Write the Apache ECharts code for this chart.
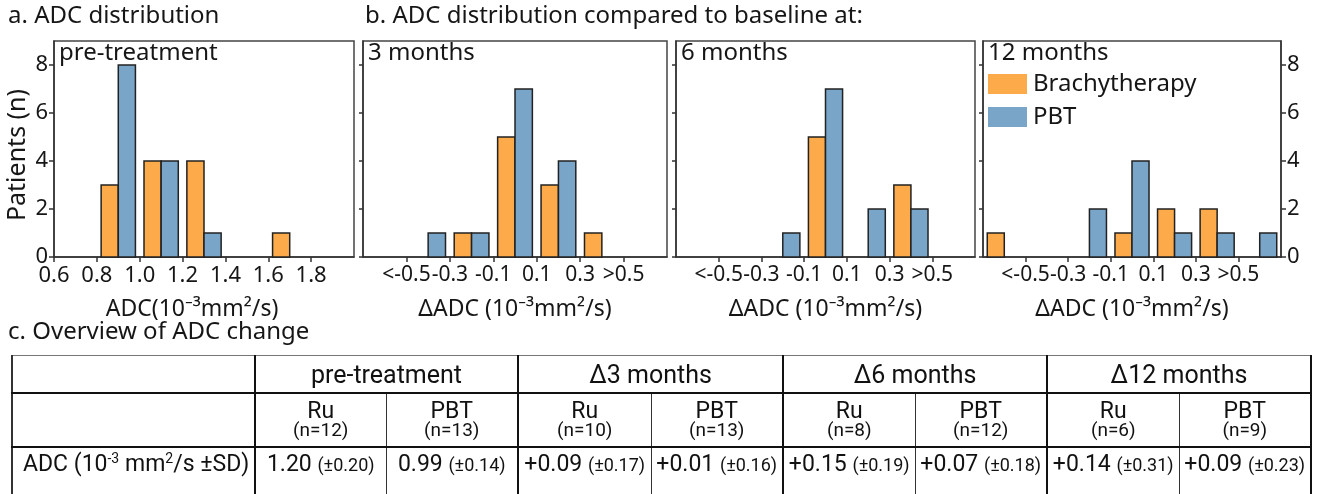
<!DOCTYPE html>
<html>
<head>
<meta charset="utf-8">
<script src="https://cdn.jsdelivr.net/npm/echarts@6/dist/echarts.min.js"></script>
<style>
  html, body { margin: 0; padding: 0; background: #fff; overflow: hidden; }
  #chart { position: absolute; left: 0; top: 0; width: 1322px; height: 494px; }
  #tbl {
    position: absolute; left: 11px; top: 355px;
    border-collapse: collapse; table-layout: fixed;
    font-family: "Roboto", sans-serif;
    color: #111; text-align: center;
    border-top: 1px solid #777; border-left: 2px solid #333; border-right: 2.5px solid #111;
  }
  #tbl td { padding: 0; vertical-align: middle; white-space: nowrap; }
  #tbl tr.r1 td { height: 36px; font-size: 25px; border-bottom: 2.5px solid #111; }
  #tbl tr.r2 td { height: 52px; border-bottom: 2.5px solid #111; line-height: 1; }
  #tbl tr.r3 td { height: 60px; font-size: 23px; vertical-align: top; padding-top: 2px; }
  #tbl td.thick { border-right: 2.5px solid #111; }
  #tbl td.thin { border-right: 1px solid #333; }
  #tbl td.lbl { text-align: left; padding-left: 10px; font-size: 22px; }
  #tbl .grp { font-size: 23px; display: block; line-height: 18px; margin-top: 1px; }
  #tbl .n { font-size: 19px; display: block; line-height: 19px; }
  #tbl .sd { font-size: 18px; }
  #tbl sup { font-size: 14px; vertical-align: 8px; line-height: 0; }
</style>
</head>
<body>
<div id="chart"></div>
<table id="tbl"></table>
<script>
// ---- panel a: absolute ADC, bins of 0.2 ----
const aBinCenters = [0.7, 0.9, 1.1, 1.3, 1.5, 1.7, 1.9];
const aTickValues = [0.6, 0.8, 1.0, 1.2, 1.4, 1.6, 1.8];
const brachyPre = [0, 3, 4, 4, 0, 1, 0];
const pbtPre = [0, 8, 4, 1, 0, 0, 0];

// ---- panel b: change vs baseline ----
const dBinCenters = [-0.6, -0.4, -0.2, 0, 0.2, 0.4, 0.6];
const dTickValues = [-0.5, -0.3, -0.1, 0.1, 0.3, 0.5];
const dTickLabels = ['<-0.5', '-0.3', '-0.1', '0.1', '0.3', '>0.5'];
const brachy3 = [0, 0, 1, 5, 3, 1, 0];
const pbt3 = [0, 1, 1, 7, 4, 0, 0];
const brachy6 = [0, 0, 0, 5, 0, 3, 0];
const pbt6 = [0, 0, 1, 7, 2, 2, 0];
const brachy12 = [1, 0, 0, 1, 2, 2, 0];
const pbt12 = [0, 0, 2, 4, 1, 1, 1];

const yTicks = [0, 2, 4, 6, 8];
const panelTitles = ['pre-treatment', '3 months', '6 months', '12 months'];
const seriesNames = ['Brachytherapy', 'PBT'];

// ---- table c ----
const tableGroups = ['pre-treatment', 'Δ3 months', 'Δ6 months', 'Δ12 months'];
const tableSub = ['Ru', 'PBT'];
const tableN = [12, 13, 10, 13, 8, 12, 6, 9];
const tableMean = ['1.20', '0.99', '+0.09', '+0.01', '+0.15', '+0.07', '+0.14', '+0.09'];
const tableSD = ['±0.20', '±0.14', '±0.17', '±0.16', '±0.19', '±0.18', '±0.31', '±0.23'];

const ORANGE = '#fcaa4a';
const BLUE = '#78a5c8';
const TXT = '#161616';
const FONT = 'Noto Sans';
const barW = 0.08;

const chart = echarts.init(document.getElementById('chart'));

const grids = [
  { left: 54, top: 41, width: 300, height: 216 },
  { left: 363, top: 41, width: 304, height: 216 },
  { left: 676, top: 41, width: 299, height: 216 },
  { left: 983, top: 41, width: 298, height: 216 }
].map(g => Object.assign(g, { show: true, borderColor: '#444', borderWidth: 1.5, containLabel: false }));

const xName = 'ADC(10⁻³mm²/s)';
const dName = 'ΔADC (10⁻³mm²/s)';

const xAxes = grids.map((g, i) => ({
  type: 'value',
  gridIndex: i,
  min: i === 0 ? 0.6 : -0.7,
  max: i === 0 ? 2.0 : 0.7,
  name: i === 0 ? xName : dName,
  nameLocation: 'middle',
  nameGap: 41,
  nameTextStyle: { fontFamily: FONT, fontSize: 23, color: TXT, padding: i === 0 ? [0, 24, 0, 0] : 0 },
  axisLine: { onZero: false, lineStyle: { color: '#333', width: 1.5 } },
  axisTick: { length: 5, lineStyle: { color: '#333', width: 1.5 },
    customValues: i === 0 ? aTickValues : dTickValues },
  axisLabel: {
    fontFamily: FONT, fontSize: i === 0 ? 22 : 21, color: TXT, margin: 8,
    showMinLabel: true, showMaxLabel: true, hideOverlap: false,
    customValues: i === 0 ? aTickValues : dTickValues,
    formatter: v => i === 0 ? v.toFixed(1) : dTickLabels[dTickValues.findIndex(t => Math.abs(t - v) < 1e-6)]
  },
  splitLine: { show: false }
}));

const yAxes = grids.map((g, i) => ({
  type: 'value',
  gridIndex: i,
  min: 0,
  max: 9,
  name: i === 0 ? 'Patients (n)' : '',
  nameLocation: 'middle',
  nameGap: 24,
  nameTextStyle: { fontFamily: FONT, fontSize: 25, color: TXT, padding: [0, 12, 0, 0] },
  axisLine: { show: true, onZero: false, lineStyle: { color: '#333', width: 1.5 } },
  axisTick: { show: true, length: i === 0 ? 5 : 4, lineStyle: { color: '#333', width: 1.5 }, customValues: yTicks },
  axisLabel: { show: i === 0, fontFamily: FONT, fontSize: 22, color: TXT, margin: 6, customValues: yTicks },
  splitLine: { show: false }
}));
// right-hand count axis on the 12 month panel
yAxes.push({
  type: 'value', gridIndex: 3, position: 'right', min: 0, max: 9,
  axisLine: { show: true, onZero: false, lineStyle: { color: '#333', width: 1.5 } },
  axisTick: { show: true, length: 5, lineStyle: { color: '#333', width: 1.5 }, customValues: yTicks },
  axisLabel: { fontFamily: FONT, fontSize: 22, color: TXT, margin: 6, customValues: yTicks },
  splitLine: { show: false }
});

function barSeries(name, color, side, centers, counts, idx) {
  return {
    type: 'custom',
    name: name,
    xAxisIndex: idx,
    yAxisIndex: idx,
    itemStyle: { color: color },
    data: centers.map((c, k) => [c, counts[k]]),
    renderItem: (params, api) => {
      const v = api.value(1);
      if (!v) return null;
      const c = api.value(0);
      const x0 = side < 0 ? c - barW : c;
      const tl = api.coord([x0, v]);
      const br = api.coord([x0 + barW, 0]);
      return {
        type: 'rect',
        shape: { x: tl[0], y: tl[1], width: br[0] - tl[0], height: br[1] - tl[1] },
        style: { fill: color, stroke: '#222', lineWidth: 1.5 }
      };
    }
  };
}

const series = [
  barSeries(seriesNames[0], ORANGE, -1, aBinCenters, brachyPre, 0),
  barSeries(seriesNames[1], BLUE, 1, aBinCenters, pbtPre, 0),
  barSeries(seriesNames[0], ORANGE, -1, dBinCenters, brachy3, 1),
  barSeries(seriesNames[1], BLUE, 1, dBinCenters, pbt3, 1),
  barSeries(seriesNames[0], ORANGE, -1, dBinCenters, brachy6, 2),
  barSeries(seriesNames[1], BLUE, 1, dBinCenters, pbt6, 2),
  barSeries(seriesNames[0], ORANGE, -1, dBinCenters, brachy12, 3),
  barSeries(seriesNames[1], BLUE, 1, dBinCenters, pbt12, 3)
];

const headStyle = { fontFamily: FONT, fontSize: 24, fontWeight: 'normal', color: TXT };
const titles = [
  { text: 'a. ADC distribution', left: 8, top: 4, padding: 0, textStyle: headStyle },
  { text: 'b. ADC distribution compared to baseline at:', left: 365, top: 4, padding: 0, textStyle: headStyle },
  { text: 'c. Overview of ADC change', left: 8, top: 320, padding: 0, textStyle: headStyle }
].concat(panelTitles.map((t, i) => ({
  text: t, left: grids[i].left + 5, top: 41, padding: 0,
  textStyle: { fontFamily: FONT, fontSize: 24, fontWeight: 'normal', color: TXT }
})));

chart.setOption({
  animation: false,
  title: titles,
  grid: grids,
  xAxis: xAxes,
  yAxis: yAxes,
  legend: {
    data: seriesNames,
    orient: 'vertical',
    left: 988, top: 72,
    padding: 0,
    itemWidth: 39, itemHeight: 20, itemGap: 9,
    icon: 'rect',
    itemStyle: { borderWidth: 0 },
    textStyle: { fontFamily: FONT, fontSize: 24, color: TXT, padding: [0, 0, 0, 1] }
  },
  series: series
});

// ---- table ----
const tbl = document.getElementById('tbl');
const colW = [243, 131, 132, 133, 132, 132, 132, 132, 132];
let html = '<colgroup>' + colW.map(w => '<col style="width:' + w + 'px">').join('') + '</colgroup>';
html += '<tr class="r1"><td class="thick"></td>' +
  tableGroups.map(g => '<td colspan="2" class="thick">' + g + '</td>').join('') + '</tr>';
html += '<tr class="r2"><td class="thick"></td>' +
  tableN.map((n, k) => '<td class="' + (k % 2 ? 'thick' : 'thin') + '"><span class="grp">' +
    tableSub[k % 2] + '</span><span class="n">(n=' + n + ')</span></td>').join('') + '</tr>';
html += '<tr class="r3"><td class="thick lbl">ADC (10<sup>-3</sup> mm<sup>2</sup>/s ±SD)</td>' +
  tableMean.map((m, k) => '<td class="' + (k % 2 ? 'thick' : 'thin') + '">' + m +
    ' <span class="sd">(' + tableSD[k] + ')</span></td>').join('') + '</tr>';
tbl.innerHTML = html;
</script>
</body>
</html>
